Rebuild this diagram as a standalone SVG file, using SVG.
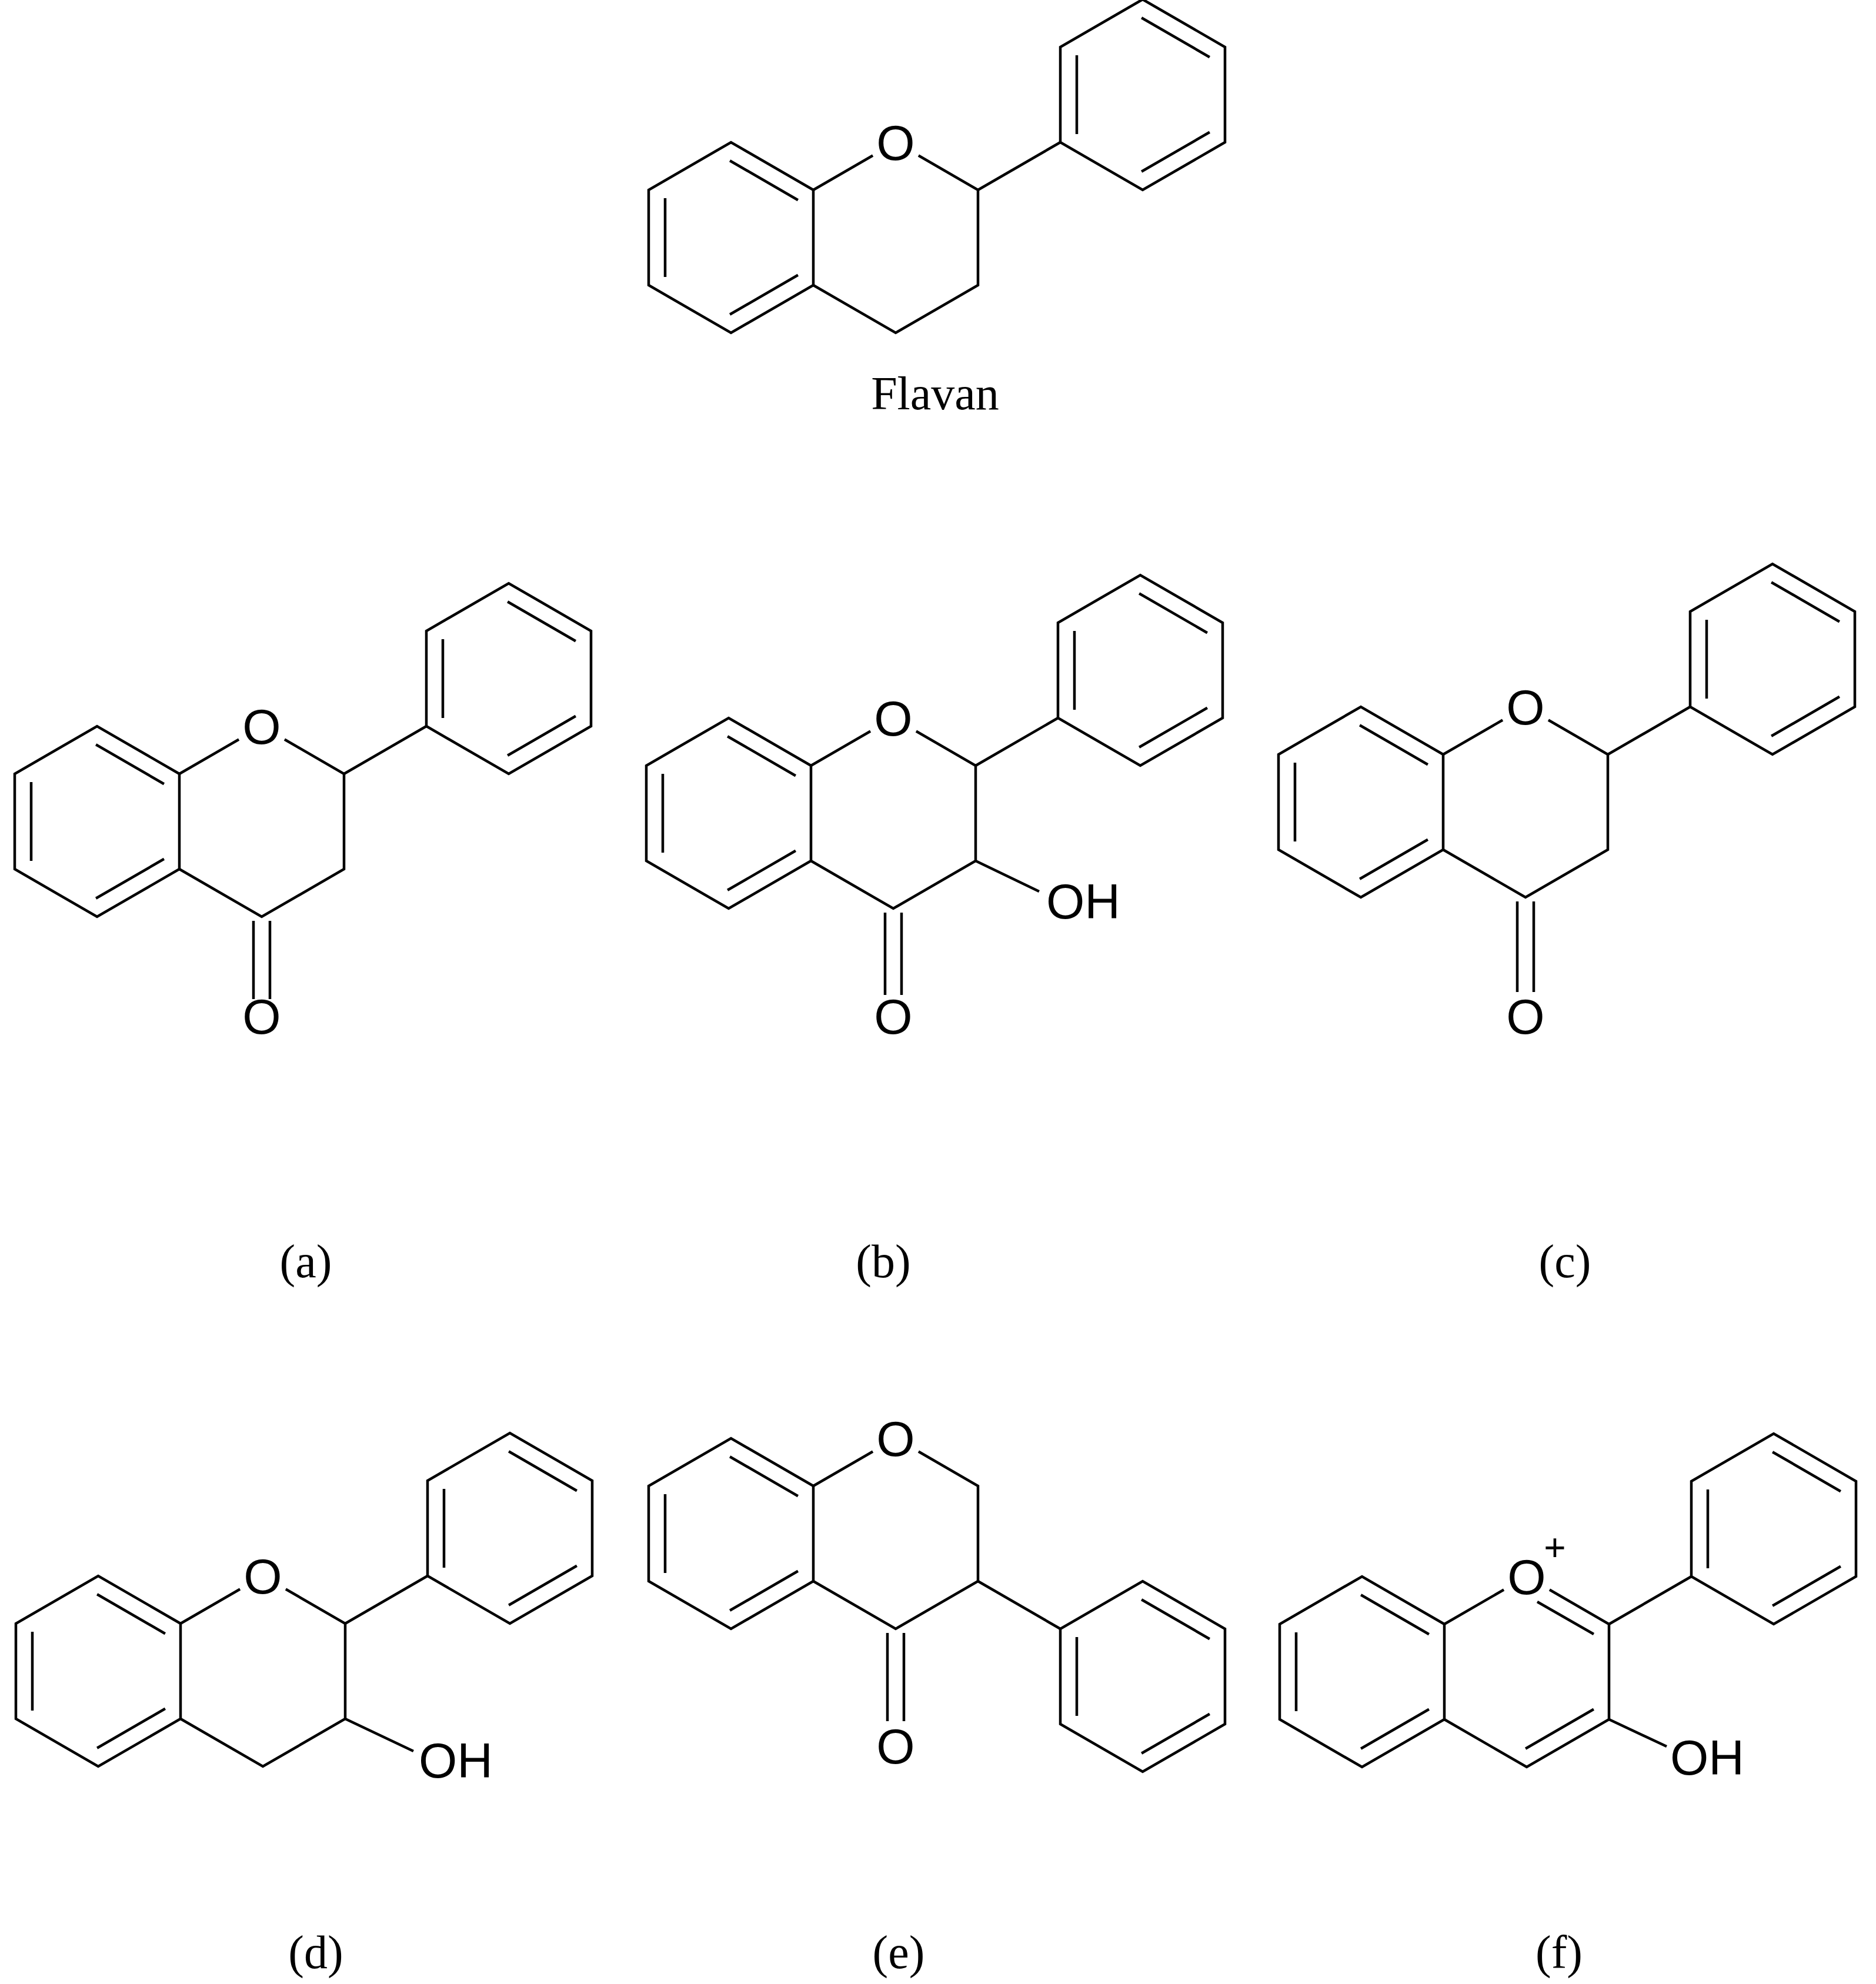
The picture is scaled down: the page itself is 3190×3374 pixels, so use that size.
<svg xmlns="http://www.w3.org/2000/svg" xmlns:xlink="http://www.w3.org/1999/xlink" width="3190" height="3374" viewBox="0 0 3190 3374">
<style>
.b{fill:none;stroke:#000;stroke-width:4.5;stroke-linejoin:miter}
.at{font-family:"Liberation Sans",Arial,sans-serif;font-size:84px;fill:#000;text-anchor:middle}
.oh{font-family:"Liberation Sans",Arial,sans-serif;font-size:84px;fill:#000}
.lab{font-family:"Liberation Serif","Times New Roman",serif;font-size:80px;fill:#000;text-anchor:middle}
</style>
<defs>
<path id="benzo" class="b" d="M0,0 L-140,-81 L-280,0 L-280,162 L-140,243 L0,162 Z M-141.9,-49.8 L-26.1,17.2 M-252,14 L-252,148 M-141.9,211.8 L-26.1,144.8"/>
<path id="phenyl" class="b" d="M0,0 L0,-162 L140,-243 L280,-162 L280,0 L140,81 Z M28,-14 L28,-148 M138.1,-211.8 L253.9,-144.8 M253.9,-17.2 L138.1,49.8"/>
<path id="hetero" class="b" d="M0,0 L101.1,-58.5 M178.9,-58.5 L280,0 L280,162 L140,243 L0,162"/>
</defs>
<rect width="3190" height="3374" fill="#fff"/>
<g id="flavan" transform="translate(1383,323)">
<use href="#benzo"/><use href="#hetero"/>
<path class="b" d="M280,0 L420,-81"/>
<use href="#phenyl" x="420" y="-81"/>
<text class="at" x="140" y="-51">O</text>
</g>
<text id="label-flavan" class="lab" x="1590" y="696">Flavan</text>
<g id="mol-a" transform="translate(305,1316)">
<use href="#benzo"/><use href="#hetero"/>
<path class="b" d="M280,0 L420,-81 M126,250 L126,383 M154,250 L154,383"/>
<use href="#phenyl" x="420" y="-81"/>
<text class="at" x="140" y="-51">O</text>
<text class="at" x="140" y="442">O</text>
</g>
<g id="mol-b" transform="translate(1379,1302)">
<use href="#benzo"/><use href="#hetero"/>
<path class="b" d="M280,0 L420,-81 M126,250 L126,390 M154,250 L154,390 M280,162 L388,214"/>
<use href="#phenyl" x="420" y="-81"/>
<text class="at" x="140" y="-51">O</text>
<text class="at" x="140" y="456">O</text>
<text class="oh" x="400" y="260">OH</text>
</g>
<g id="mol-c" transform="translate(2454,1283)">
<use href="#benzo"/><use href="#hetero"/>
<path class="b" d="M280,0 L420,-81 M126,250 L126,404 M154,250 L154,404"/>
<use href="#phenyl" x="420" y="-81"/>
<text class="at" x="140" y="-51">O</text>
<text class="at" x="140" y="475">O</text>
</g>
<g id="mol-d" transform="translate(307,2761)">
<use href="#benzo"/><use href="#hetero"/>
<path class="b" d="M280,0 L420,-81 M280,162 L396,217"/>
<use href="#phenyl" x="420" y="-81"/>
<text class="at" x="140" y="-51">O</text>
<text class="oh" x="405" y="262">OH</text>
</g>
<g id="mol-e" transform="translate(1383,2527)">
<use href="#benzo"/><use href="#hetero"/>
<path class="b" d="M280,162 L420,243 M126,250 L126,400 M154,250 L154,400"/>
<use href="#phenyl" transform="translate(420,243) scale(1,-1)"/>
<text class="at" x="140" y="-51">O</text>
<text class="at" x="140" y="472">O</text>
</g>
<g id="mol-f" transform="translate(2456,2762)">
<use href="#benzo"/><use href="#hetero"/>
<path class="b" d="M280,0 L420,-81 M158,-38 L254,17 M253.9,144.8 L138.1,211.8 M280,162 L378,208"/>
<use href="#phenyl" x="420" y="-81"/>
<text class="at" x="140" y="-51">O</text>
<text class="at" x="188" y="-108" style="font-size:64px">+</text>
<text class="oh" x="384" y="256">OH</text>
</g>
<g id="labels">
<text class="lab" x="520" y="2172">(a)</text>
<text class="lab" x="1502" y="2172">(b)</text>
<text class="lab" x="2661" y="2172">(c)</text>
<text class="lab" x="537" y="3347">(d)</text>
<text class="lab" x="1528" y="3347">(e)</text>
<text class="lab" x="2651" y="3347">(f)</text>
</g>
</svg>
